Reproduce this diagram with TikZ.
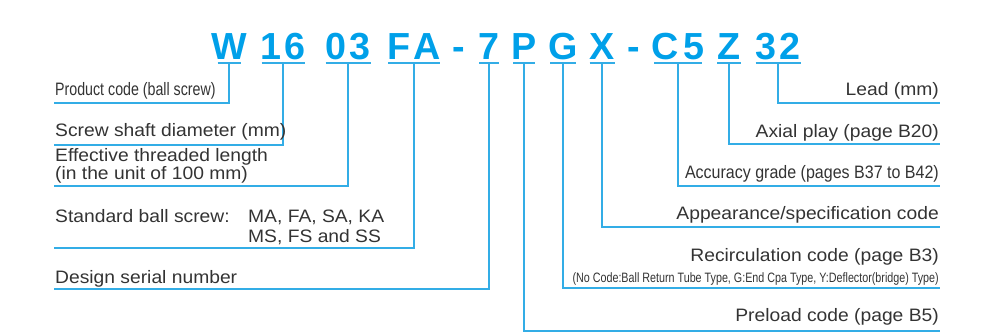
\documentclass[tikz,border=0pt]{standalone}
\usepackage{fontspec}
\setmainfont{Liberation Sans}
\newfontfamily\labelfont[FakeStretch=1.07]{Liberation Sans}
\newfontfamily\condfont[FakeStretch=0.79]{Liberation Sans}
\newfontfamily\semicondfont[FakeStretch=0.89]{Liberation Sans}
\definecolor{codeblue}{HTML}{00A0E9}
\definecolor{linkblue}{HTML}{33ADE6}
\definecolor{txtgray}{HTML}{333333}

\begin{document}
\begin{tikzpicture}[x=1pt,y=-1pt,
  code/.style={inner sep=0pt, anchor=base, text=codeblue, font=\fontsize{37.7}{40}\selectfont\bfseries},
  lbl/.style={inner sep=0pt, text=txtgray, font=\labelfont\fontsize{18}{18}\selectfont},
  condlbl/.style={inner sep=0pt, text=txtgray, font=\condfont\fontsize{18}{18}\selectfont},
  note/.style={inner sep=0pt, text=txtgray, font=\condfont\fontsize{13.6}{14}\selectfont},
  link/.style={draw=linkblue, line width=1.6pt}]
\useasboundingbox (0,0) rectangle (996,333);

\foreach \n/\x/\t/\w in {cW/229/W/11.5, c16/283/1\kern4pt6/21.5, c03/348/0\kern4pt3/22.5,
    cFA/414/F\kern3pt A/26, c7/489/7/10, cP/524/P/11, cG/563/G/13, cX/602/X/12.5,
    cC5/678/C\kern4pt5/24, cZ/729/Z/12, c32/778/3\kern4pt2/22.5} {
  \node[code] (\n) at (\x,59) {\t};
  \coordinate (\n-u) at ([yshift=-4pt]\n.base);
  \draw[link] ([xshift=-\w pt]\n-u) -- ([xshift=\w pt]\n-u);
}
\node[code] (h1) at (459,59) {-};
\node[code] (h2) at (634,59) {-};

\foreach \n/\y/\e in {cW/103/54, c16/145/54, c03/186/54, cFA/248/54, c7/289/54,
    cP/331/940, cG/288/940, cX/227/940, cC5/186/940, cZ/144/940, c32/103/940} {
  \coordinate (\n-e) at (\e,\y);
  \draw[link] (\n-u) |- (\n-e);
}

\node[condlbl, anchor=base west] (tProd) at (55,95) {Product code (ball screw)};
\node[lbl, anchor=base west] (tShaft) at (55,136) {Screw shaft diameter (mm)};
\node[lbl, anchor=base west, align=left] (tLength) at (55,179) {Effective threaded length\\(in the unit of 100 mm)};
\node[lbl, anchor=base west] (tStd) at (55,222) {Standard ball screw:};
\node[lbl, anchor=base west, align=left] (tStdList) at (248,242) {MA, FA, SA, KA\\[2pt]MS, FS and SS};
\node[lbl, anchor=base west] (tSerial) at (55,283) {Design serial number};

\node[lbl, anchor=base east] (tLead) at (939,95) {Lead (mm)};
\node[lbl, anchor=base east] (tAxial) at (939,137) {Axial play (page B20)};
\node[condlbl, font=\semicondfont\fontsize{18}{18}\selectfont, anchor=base east] (tAcc) at (939,178) {Accuracy grade (pages B37 to B42)};
\node[lbl, anchor=base east] (tApp) at (939,219) {Appearance/specification code};
\node[lbl, anchor=base east] (tRecirc) at (939,261) {Recirculation code (page B3)};
\node[note, anchor=base east] (tRecNote) at (939,282) {(No Code:Ball Return Tube Type, G:End Cpa Type, Y:Deflector(bridge) Type)};
\node[lbl, anchor=base east] (tPreload) at (939,321) {Preload code (page B5)};
\end{tikzpicture}
\end{document}
